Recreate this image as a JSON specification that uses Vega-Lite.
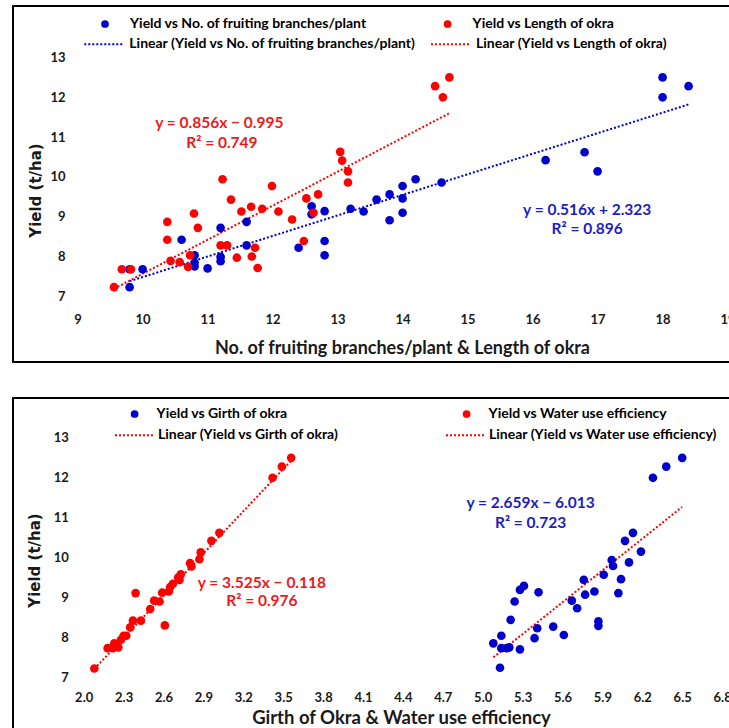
{
  "$schema": "https://vega.github.io/schema/vega-lite/v6.json",
  "background": "white",
  "padding": {"left": 12, "top": 5, "right": 0, "bottom": 0},
  "autosize": {"type": "pad"},
  "spacing": 34,
  "config": {
    "view": {"stroke": "#000000", "strokeWidth": 2},
    "axis": {"grid": false, "domain": false, "ticks": false, "tickSize": 0, "labelFont": "Lato", "labelFontSize": 13, "labelFontWeight": "bold", "labelColor": "#1a1a1a", "titleColor": "#1a1a1a", "labelFlush": false, "labelOverlap": false, "labelBound": false},
    "legend": {"labelFont": "Lato", "labelFontSize": 14, "labelFontWeight": "bold", "labelColor": "#000000", "padding": 0, "rowPadding": 2, "labelLimit": 500}
  },
  "resolve": {"scale": {"fill": "independent", "stroke": "independent"}, "legend": {"fill": "independent", "stroke": "independent"}},
  "vconcat": [
    {
      "width": 732,
      "height": 356,
      "layer": [
        {
          "mark": {"type": "rule", "color": "#c8c8c8", "strokeWidth": 1},
          "encoding": {
            "x": {"datum": 9, "type": "quantitative", "scale": {"domain": [8.006, 19.268], "nice": false, "zero": false}},
            "x2": {"datum": 19.268},
            "y": {"datum": 7, "type": "quantitative", "scale": {"domain": [5.349, 14.294], "nice": false, "zero": false}}
          }
        },
        {
          "mark": {"type": "rule", "color": "#c8c8c8", "strokeWidth": 1},
          "encoding": {
            "x": {"datum": 9, "type": "quantitative"},
            "y": {"datum": 7, "type": "quantitative"},
            "y2": {"datum": 13}
          }
        },
        {
          "data": {"values": [
            {"series": "Linear (Yield vs No. of fruiting branches/plant)", "x": 9.8, "y": 7.38},
            {"series": "Linear (Yield vs No. of fruiting branches/plant)", "x": 18.4, "y": 11.82},
            {"series": "Linear (Yield vs Length of okra)", "x": 9.56, "y": 7.19},
            {"series": "Linear (Yield vs Length of okra)", "x": 14.72, "y": 11.6}
          ]},
          "mark": {"type": "line", "strokeWidth": 2, "strokeDash": [2, 2]},
          "encoding": {
            "x": {"field": "x", "type": "quantitative"},
            "y": {"field": "y", "type": "quantitative"},
            "stroke": {"field": "series", "type": "nominal",
              "scale": {"domain": ["Linear (Yield vs No. of fruiting branches/plant)", "Linear (Yield vs Length of okra)"], "range": ["#0000CC", "#FF0000"]},
              "legend": {"title": null, "orient": "none", "legendX": 70.3, "legendY": 17.5, "columns": 2, "columnPadding": 10.7, "symbolType": "stroke", "symbolSize": 1521, "symbolDash": [2, 2], "symbolStrokeWidth": 2, "labelOffset": 5}
            }
          }
        },
        {
          "data": {"values": [
            {"series": "Yield vs No. of fruiting branches/plant", "x": 9.8, "y": 7.23},
            {"series": "Yield vs No. of fruiting branches/plant", "x": 9.8, "y": 7.68},
            {"series": "Yield vs No. of fruiting branches/plant", "x": 10.0, "y": 7.68},
            {"series": "Yield vs No. of fruiting branches/plant", "x": 10.6, "y": 8.42},
            {"series": "Yield vs No. of fruiting branches/plant", "x": 10.8, "y": 8.03},
            {"series": "Yield vs No. of fruiting branches/plant", "x": 10.8, "y": 7.84},
            {"series": "Yield vs No. of fruiting branches/plant", "x": 10.8, "y": 7.75},
            {"series": "Yield vs No. of fruiting branches/plant", "x": 11.0, "y": 7.7},
            {"series": "Yield vs No. of fruiting branches/plant", "x": 11.2, "y": 8.72},
            {"series": "Yield vs No. of fruiting branches/plant", "x": 11.2, "y": 7.99},
            {"series": "Yield vs No. of fruiting branches/plant", "x": 11.2, "y": 7.88},
            {"series": "Yield vs No. of fruiting branches/plant", "x": 11.6, "y": 8.87},
            {"series": "Yield vs No. of fruiting branches/plant", "x": 11.6, "y": 8.28},
            {"series": "Yield vs No. of fruiting branches/plant", "x": 12.4, "y": 8.22},
            {"series": "Yield vs No. of fruiting branches/plant", "x": 12.6, "y": 9.26},
            {"series": "Yield vs No. of fruiting branches/plant", "x": 12.6, "y": 9.06},
            {"series": "Yield vs No. of fruiting branches/plant", "x": 12.8, "y": 9.14},
            {"series": "Yield vs No. of fruiting branches/plant", "x": 12.8, "y": 8.39},
            {"series": "Yield vs No. of fruiting branches/plant", "x": 12.8, "y": 8.03},
            {"series": "Yield vs No. of fruiting branches/plant", "x": 13.2, "y": 9.2},
            {"series": "Yield vs No. of fruiting branches/plant", "x": 13.4, "y": 9.13},
            {"series": "Yield vs No. of fruiting branches/plant", "x": 13.6, "y": 9.43},
            {"series": "Yield vs No. of fruiting branches/plant", "x": 13.8, "y": 9.56},
            {"series": "Yield vs No. of fruiting branches/plant", "x": 13.8, "y": 8.91},
            {"series": "Yield vs No. of fruiting branches/plant", "x": 14.0, "y": 9.77},
            {"series": "Yield vs No. of fruiting branches/plant", "x": 14.0, "y": 9.46},
            {"series": "Yield vs No. of fruiting branches/plant", "x": 14.0, "y": 9.1},
            {"series": "Yield vs No. of fruiting branches/plant", "x": 14.2, "y": 9.94},
            {"series": "Yield vs No. of fruiting branches/plant", "x": 14.6, "y": 9.86},
            {"series": "Yield vs No. of fruiting branches/plant", "x": 16.2, "y": 10.42},
            {"series": "Yield vs No. of fruiting branches/plant", "x": 16.8, "y": 10.62},
            {"series": "Yield vs No. of fruiting branches/plant", "x": 17.0, "y": 10.14},
            {"series": "Yield vs No. of fruiting branches/plant", "x": 18.0, "y": 12.5},
            {"series": "Yield vs No. of fruiting branches/plant", "x": 18.0, "y": 12.0},
            {"series": "Yield vs No. of fruiting branches/plant", "x": 18.4, "y": 12.28},
            {"series": "Yield vs Length of okra", "x": 9.56, "y": 7.23},
            {"series": "Yield vs Length of okra", "x": 9.68, "y": 7.68},
            {"series": "Yield vs Length of okra", "x": 9.82, "y": 7.68},
            {"series": "Yield vs Length of okra", "x": 10.38, "y": 8.42},
            {"series": "Yield vs Length of okra", "x": 10.38, "y": 8.87},
            {"series": "Yield vs Length of okra", "x": 10.43, "y": 7.89},
            {"series": "Yield vs Length of okra", "x": 10.57, "y": 7.86},
            {"series": "Yield vs Length of okra", "x": 10.7, "y": 7.74},
            {"series": "Yield vs Length of okra", "x": 10.73, "y": 8.03},
            {"series": "Yield vs Length of okra", "x": 10.79, "y": 9.08},
            {"series": "Yield vs Length of okra", "x": 10.85, "y": 8.72},
            {"series": "Yield vs Length of okra", "x": 11.2, "y": 8.28},
            {"series": "Yield vs Length of okra", "x": 11.23, "y": 9.94},
            {"series": "Yield vs Length of okra", "x": 11.3, "y": 8.28},
            {"series": "Yield vs Length of okra", "x": 11.36, "y": 9.43},
            {"series": "Yield vs Length of okra", "x": 11.45, "y": 7.97},
            {"series": "Yield vs Length of okra", "x": 11.52, "y": 9.13},
            {"series": "Yield vs Length of okra", "x": 11.67, "y": 9.25},
            {"series": "Yield vs Length of okra", "x": 11.68, "y": 8.0},
            {"series": "Yield vs Length of okra", "x": 11.73, "y": 8.22},
            {"series": "Yield vs Length of okra", "x": 11.77, "y": 7.71},
            {"series": "Yield vs Length of okra", "x": 11.84, "y": 9.2},
            {"series": "Yield vs Length of okra", "x": 11.99, "y": 9.77},
            {"series": "Yield vs Length of okra", "x": 12.09, "y": 9.13},
            {"series": "Yield vs Length of okra", "x": 12.3, "y": 8.93},
            {"series": "Yield vs Length of okra", "x": 12.48, "y": 8.39},
            {"series": "Yield vs Length of okra", "x": 12.52, "y": 9.46},
            {"series": "Yield vs Length of okra", "x": 12.63, "y": 9.1},
            {"series": "Yield vs Length of okra", "x": 12.7, "y": 9.56},
            {"series": "Yield vs Length of okra", "x": 13.04, "y": 10.63},
            {"series": "Yield vs Length of okra", "x": 13.07, "y": 10.41},
            {"series": "Yield vs Length of okra", "x": 13.16, "y": 10.14},
            {"series": "Yield vs Length of okra", "x": 13.16, "y": 9.86},
            {"series": "Yield vs Length of okra", "x": 14.5, "y": 12.28},
            {"series": "Yield vs Length of okra", "x": 14.62, "y": 12.0},
            {"series": "Yield vs Length of okra", "x": 14.72, "y": 12.5}
          ]},
          "mark": {"type": "point", "filled": true, "size": 75, "opacity": 1},
          "encoding": {
            "x": {"field": "x", "type": "quantitative", "scale": {"domain": [8.006, 19.268], "nice": false, "zero": false},
              "axis": {"title": "No. of fruiting branches/plant & Length of okra", "values": [9, 10, 11, 12, 13, 14, 15, 16, 17, 18, 19], "format": "d", "offset": -65.7, "labelPadding": 17.2, "titleFont": "Lato", "titleFontSize": 18, "titleFontWeight": "bold", "titleX": 389, "titleY": 51.7, "titleBaseline": "middle", "titleAlign": "center"}},
            "y": {"field": "y", "type": "quantitative", "scale": {"domain": [5.349, 14.294], "nice": false, "zero": false},
              "axis": {"title": "Yield (t/ha)", "values": [7, 8, 9, 10, 11, 12, 13], "format": "d", "offset": -64.6, "labelPadding": 12.6, "titleFont": "DejaVu Sans", "titleFontSize": 15, "titleFontWeight": "bold", "titleX": -42.1, "titleY": 184, "titleBaseline": "middle", "titleAlign": "center", "titleAngle": -90}},
            "fill": {"field": "series", "type": "nominal",
              "scale": {"domain": ["Yield vs No. of fruiting branches/plant", "Yield vs Length of okra"], "range": ["#0000CC", "#FF0000"]},
              "legend": {"title": null, "orient": "none", "legendX": 85, "legendY": 11, "columns": 2, "columnPadding": 73.6, "symbolType": "circle", "symbolSize": 60, "labelOffset": 18}
            }
          }
        },
        {
          "data": {"values": [
            {"x": 11.18, "y": 11.35, "label": "y = 0.856x − 0.995"},
            {"x": 11.22, "y": 10.84, "label": "R² = 0.749"}
          ]},
          "mark": {"type": "text", "color": "#F01818", "font": "Lato", "fontSize": 15.5, "fontWeight": "bold", "align": "center", "baseline": "middle"},
          "encoding": {
            "x": {"field": "x", "type": "quantitative"},
            "y": {"field": "y", "type": "quantitative"},
            "text": {"field": "label"}
          }
        },
        {
          "data": {"values": [
            {"x": 16.84, "y": 9.18, "label": "y = 0.516x + 2.323"},
            {"x": 16.84, "y": 8.7, "label": "R² = 0.896"}
          ]},
          "mark": {"type": "text", "color": "#1C1CC4", "font": "Lato", "fontSize": 15.5, "fontWeight": "bold", "align": "center", "baseline": "middle"},
          "encoding": {
            "x": {"field": "x", "type": "quantitative"},
            "y": {"field": "y", "type": "quantitative"},
            "text": {"field": "label"}
          }
        }
      ]
    },
    {
      "width": 732,
      "height": 345,
      "layer": [
        {
          "mark": {"type": "rule", "color": "#c8c8c8", "strokeWidth": 1},
          "encoding": {
            "x": {"datum": 2.0, "type": "quantitative", "scale": {"domain": [1.4684, 6.9722], "nice": false, "zero": false}},
            "x2": {"datum": 6.9722},
            "y": {"datum": 7, "type": "quantitative", "scale": {"domain": [5.353, 14.0], "nice": false, "zero": false}}
          }
        },
        {
          "mark": {"type": "rule", "color": "#c8c8c8", "strokeWidth": 1},
          "encoding": {
            "x": {"datum": 2.0, "type": "quantitative"},
            "y": {"datum": 7, "type": "quantitative"},
            "y2": {"datum": 13}
          }
        },
        {
          "data": {"values": [
            {"series": "Linear (Yield vs Girth of okra)", "x": 2.08, "y": 7.21},
            {"series": "Linear (Yield vs Girth of okra)", "x": 3.56, "y": 12.43},
            {"series": "Linear (Yield vs Water use efficiency)", "x": 5.08, "y": 7.5},
            {"series": "Linear (Yield vs Water use efficiency)", "x": 6.5, "y": 11.27}
          ]},
          "mark": {"type": "line", "strokeWidth": 2, "strokeDash": [2, 2]},
          "encoding": {
            "x": {"field": "x", "type": "quantitative"},
            "y": {"field": "y", "type": "quantitative"},
            "stroke": {"field": "series", "type": "nominal",
              "scale": {"domain": ["Linear (Yield vs Girth of okra)", "Linear (Yield vs Water use efficiency)"], "range": ["#FF0000", "#FF0000"]},
              "legend": {"title": null, "orient": "none", "legendX": 101, "legendY": 16.5, "columns": 2, "columnPadding": 103, "symbolType": "stroke", "symbolSize": 1521, "symbolDash": [2, 2], "symbolStrokeWidth": 2, "labelOffset": 3}
            }
          }
        },
        {
          "data": {"values": [
            {"series": "Yield vs Girth of okra", "x": 2.08, "y": 7.22},
            {"series": "Yield vs Girth of okra", "x": 2.18, "y": 7.73},
            {"series": "Yield vs Girth of okra", "x": 2.22, "y": 7.73},
            {"series": "Yield vs Girth of okra", "x": 2.23, "y": 7.85},
            {"series": "Yield vs Girth of okra", "x": 2.26, "y": 7.75},
            {"series": "Yield vs Girth of okra", "x": 2.28, "y": 7.94},
            {"series": "Yield vs Girth of okra", "x": 2.3, "y": 8.04},
            {"series": "Yield vs Girth of okra", "x": 2.32, "y": 8.04},
            {"series": "Yield vs Girth of okra", "x": 2.35, "y": 8.25},
            {"series": "Yield vs Girth of okra", "x": 2.37, "y": 8.42},
            {"series": "Yield vs Girth of okra", "x": 2.39, "y": 9.11},
            {"series": "Yield vs Girth of okra", "x": 2.43, "y": 8.42},
            {"series": "Yield vs Girth of okra", "x": 2.5, "y": 8.71},
            {"series": "Yield vs Girth of okra", "x": 2.53, "y": 8.92},
            {"series": "Yield vs Girth of okra", "x": 2.57, "y": 8.9},
            {"series": "Yield vs Girth of okra", "x": 2.59, "y": 9.12},
            {"series": "Yield vs Girth of okra", "x": 2.61, "y": 8.3},
            {"series": "Yield vs Girth of okra", "x": 2.64, "y": 9.15},
            {"series": "Yield vs Girth of okra", "x": 2.65, "y": 9.26},
            {"series": "Yield vs Girth of okra", "x": 2.67, "y": 9.34},
            {"series": "Yield vs Girth of okra", "x": 2.71, "y": 9.5},
            {"series": "Yield vs Girth of okra", "x": 2.72, "y": 9.44},
            {"series": "Yield vs Girth of okra", "x": 2.73, "y": 9.58},
            {"series": "Yield vs Girth of okra", "x": 2.8, "y": 9.86},
            {"series": "Yield vs Girth of okra", "x": 2.81, "y": 9.78},
            {"series": "Yield vs Girth of okra", "x": 2.87, "y": 9.96},
            {"series": "Yield vs Girth of okra", "x": 2.88, "y": 10.13},
            {"series": "Yield vs Girth of okra", "x": 2.96, "y": 10.42},
            {"series": "Yield vs Girth of okra", "x": 3.02, "y": 10.62},
            {"series": "Yield vs Girth of okra", "x": 3.42, "y": 12.0},
            {"series": "Yield vs Girth of okra", "x": 3.49, "y": 12.28},
            {"series": "Yield vs Girth of okra", "x": 3.56, "y": 12.5},
            {"series": "Yield vs Water use efficiency", "x": 5.08, "y": 7.85},
            {"series": "Yield vs Water use efficiency", "x": 5.13, "y": 7.24},
            {"series": "Yield vs Water use efficiency", "x": 5.14, "y": 8.04},
            {"series": "Yield vs Water use efficiency", "x": 5.14, "y": 7.73},
            {"series": "Yield vs Water use efficiency", "x": 5.18, "y": 7.73},
            {"series": "Yield vs Water use efficiency", "x": 5.2, "y": 7.75},
            {"series": "Yield vs Water use efficiency", "x": 5.21, "y": 8.44},
            {"series": "Yield vs Water use efficiency", "x": 5.24, "y": 8.9},
            {"series": "Yield vs Water use efficiency", "x": 5.28, "y": 7.7},
            {"series": "Yield vs Water use efficiency", "x": 5.28, "y": 9.19},
            {"series": "Yield vs Water use efficiency", "x": 5.31, "y": 9.29},
            {"series": "Yield vs Water use efficiency", "x": 5.39, "y": 7.98},
            {"series": "Yield vs Water use efficiency", "x": 5.41, "y": 8.23},
            {"series": "Yield vs Water use efficiency", "x": 5.42, "y": 9.13},
            {"series": "Yield vs Water use efficiency", "x": 5.53, "y": 8.27},
            {"series": "Yield vs Water use efficiency", "x": 5.61, "y": 8.06},
            {"series": "Yield vs Water use efficiency", "x": 5.67, "y": 8.92},
            {"series": "Yield vs Water use efficiency", "x": 5.71, "y": 8.73},
            {"series": "Yield vs Water use efficiency", "x": 5.76, "y": 9.44},
            {"series": "Yield vs Water use efficiency", "x": 5.77, "y": 9.07},
            {"series": "Yield vs Water use efficiency", "x": 5.84, "y": 9.15},
            {"series": "Yield vs Water use efficiency", "x": 5.87, "y": 8.4},
            {"series": "Yield vs Water use efficiency", "x": 5.87, "y": 8.29},
            {"series": "Yield vs Water use efficiency", "x": 5.91, "y": 9.57},
            {"series": "Yield vs Water use efficiency", "x": 5.97, "y": 9.94},
            {"series": "Yield vs Water use efficiency", "x": 5.98, "y": 9.79},
            {"series": "Yield vs Water use efficiency", "x": 6.02, "y": 9.11},
            {"series": "Yield vs Water use efficiency", "x": 6.04, "y": 9.46},
            {"series": "Yield vs Water use efficiency", "x": 6.1, "y": 9.88},
            {"series": "Yield vs Water use efficiency", "x": 6.07, "y": 10.42},
            {"series": "Yield vs Water use efficiency", "x": 6.13, "y": 10.62},
            {"series": "Yield vs Water use efficiency", "x": 6.19, "y": 10.15},
            {"series": "Yield vs Water use efficiency", "x": 6.28, "y": 12.0},
            {"series": "Yield vs Water use efficiency", "x": 6.38, "y": 12.28},
            {"series": "Yield vs Water use efficiency", "x": 6.5, "y": 12.5}
          ]},
          "mark": {"type": "point", "filled": true, "size": 75, "opacity": 1},
          "encoding": {
            "x": {"field": "x", "type": "quantitative", "scale": {"domain": [1.4684, 6.9722], "nice": false, "zero": false},
              "axis": {"title": "Girth of Okra & Water use efficiency", "values": [2.0, 2.3, 2.6, 2.9, 3.2, 3.5, 3.8, 4.1, 4.4, 4.7, 5.0, 5.3, 5.6, 5.9, 6.2, 6.5, 6.8], "format": ".1f", "offset": -65.7, "labelPadding": 14.6, "titleFont": "Lato", "titleFontSize": 18.5, "titleFontWeight": "bold", "titleX": 388, "titleY": 39.7, "titleBaseline": "middle", "titleAlign": "center"}},
            "y": {"field": "y", "type": "quantitative", "scale": {"domain": [5.353, 14.0], "nice": false, "zero": false},
              "axis": {"title": "Yield (t/ha)", "values": [7, 8, 9, 10, 11, 12, 13], "format": "d", "offset": -70.7, "labelPadding": 15.4, "titleFont": "DejaVu Sans", "titleFontSize": 15, "titleFontWeight": "bold", "titleX": -48.7, "titleY": 162, "titleBaseline": "middle", "titleAlign": "center", "titleAngle": -90}},
            "fill": {"field": "series", "type": "nominal",
              "scale": {"domain": ["Yield vs Water use efficiency", "Yield vs Girth of okra"], "range": ["#0000CC", "#FF0000"]},
              "legend": {"title": null, "orient": "none", "legendX": 114.6, "legendY": 9, "columns": 2, "columnPadding": 171, "symbolType": "circle", "symbolSize": 60, "labelOffset": 15,
                "labelExpr": "datum.label === 'Yield vs Water use efficiency' ? 'Yield vs Girth of okra' : 'Yield vs Water use efficiency'"}
            }
          }
        },
        {
          "data": {"values": [
            {"x": 3.34, "y": 9.37, "label": "y = 3.525x − 0.118"},
            {"x": 3.34, "y": 8.9, "label": "R² = 0.976"}
          ]},
          "mark": {"type": "text", "color": "#F01818", "font": "Lato", "fontSize": 15.5, "fontWeight": "bold", "align": "center", "baseline": "middle"},
          "encoding": {
            "x": {"field": "x", "type": "quantitative"},
            "y": {"field": "y", "type": "quantitative"},
            "text": {"field": "label"}
          }
        },
        {
          "data": {"values": [
            {"x": 5.36, "y": 11.36, "label": "y = 2.659x − 6.013"},
            {"x": 5.36, "y": 10.87, "label": "R² = 0.723"}
          ]},
          "mark": {"type": "text", "color": "#1C1CC4", "font": "Lato", "fontSize": 15.5, "fontWeight": "bold", "align": "center", "baseline": "middle"},
          "encoding": {
            "x": {"field": "x", "type": "quantitative"},
            "y": {"field": "y", "type": "quantitative"},
            "text": {"field": "label"}
          }
        }
      ]
    }
  ]
}
